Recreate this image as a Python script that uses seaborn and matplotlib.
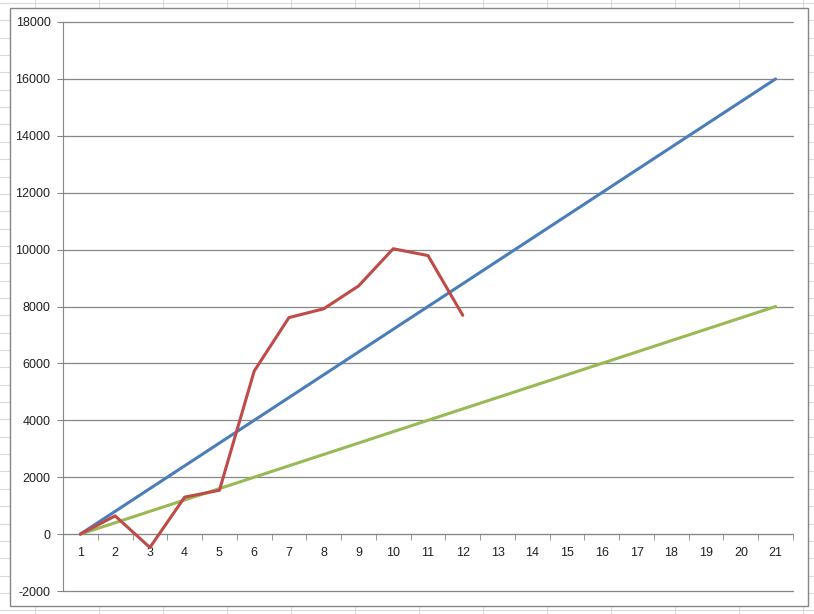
import numpy as np
import pandas as pd
import matplotlib
matplotlib.use("Agg")
import matplotlib.pyplot as plt
import matplotlib.patches as mpatches
import matplotlib.lines as mlines
import seaborn as sns

# data
periods = [1, 2, 3, 4, 5, 6, 7, 8, 9, 10, 11, 12, 13, 14, 15, 16, 17, 18, 19, 20, 21]
plan_high = [0, 800, 1600, 2400, 3200, 4000, 4800, 5600, 6400, 7200, 8000,
             8800, 9600, 10400, 11200, 12000, 12800, 13600, 14400, 15200, 16000]
plan_low = [0, 400, 800, 1200, 1600, 2000, 2400, 2800, 3200, 3600, 4000,
            4400, 4800, 5200, 5600, 6000, 6400, 6800, 7200, 7600, 8000]
actual_periods = [1, 2, 3, 4, 5, 6, 7, 8, 9, 10, 11, 12]
actual = [0, 640, -470, 1300, 1540, 5730, 7610, 7920, 8720, 10030, 9790, 7690]
y_ticks = [-2000, 0, 2000, 4000, 6000, 8000, 10000, 12000, 14000, 16000, 18000]

BLUE = '#4a7ebb'
RED = '#be4b48'
GREEN = '#98b954'
GRID = '#878787'

sns.set_style("white")
plt.rcParams['font.family'] = ['Liberation Sans', 'DejaVu Sans']

W, H = 814, 614
fig = plt.figure(figsize=(W / 100, H / 100), dpi=100)

# spreadsheet cells behind the chart
for x in np.arange(35, W, 64):
    fig.add_artist(mlines.Line2D([x / W, x / W], [0, 1], color='#dadada', lw=0.8, zorder=-3))
for y in np.arange(3, H, 17.35):
    fig.add_artist(mlines.Line2D([0, 1], [1 - y / H, 1 - y / H], color='#dadada', lw=0.8, zorder=-3))

# chart area
fig.add_artist(mpatches.Rectangle((10 / W, 1 - 606 / H), 798 / W, 598 / H,
                                  facecolor='white', edgecolor='#868686', lw=1.0, zorder=-2))

ax = fig.add_axes([63 / W, 1 - 591 / H, 730 / W, 569 / H])
ax.set_facecolor('none')
ax.set_zorder(1)

df_high = pd.DataFrame({'period': periods, 'value': plan_high})
df_low = pd.DataFrame({'period': periods, 'value': plan_low})
df_act = pd.DataFrame({'period': actual_periods, 'value': actual})

sns.lineplot(data=df_high, x='period', y='value', color=BLUE, lw=2.2, ax=ax, zorder=3)
sns.lineplot(data=df_act, x='period', y='value', color=RED, lw=2.2, ax=ax, zorder=4)
sns.lineplot(data=df_low, x='period', y='value', color=GREEN, lw=2.2, ax=ax, zorder=3)

ax.set_xlim(0.5, 21.5)
ax.set_ylim(-2000, 18000)
ax.set_yticks(y_ticks)
ax.set_yticklabels([str(v) for v in y_ticks])
ax.set_xticks(periods)
ax.set_xticklabels([str(p) for p in periods])
ax.set_xticks(np.arange(0.5, 22, 1.0), minor=True)

ax.set_xlabel('')
ax.set_ylabel('')
ax.yaxis.grid(True, color=GRID, lw=0.9)
ax.xaxis.grid(False)
ax.set_axisbelow(True)
for gl in ax.get_ygridlines():
    gl.set_clip_on(False)

for s in ['top', 'right']:
    ax.spines[s].set_visible(False)
ax.spines['left'].set_color(GRID)
ax.spines['bottom'].set_color(GRID)
ax.spines['bottom'].set_position(('data', 0))
ax.spines['bottom'].set_zorder(2)

ax.tick_params(axis='y', which='major', length=4, color=GRID, pad=5,
               labelsize=9, labelcolor='#222222', left=True)
ax.tick_params(axis='x', which='major', length=0, pad=9.5,
               labelsize=9, labelcolor='#222222', bottom=True)
ax.tick_params(axis='x', which='minor', length=4, color=GRID, direction='out', bottom=True)

fig.savefig('out.png', dpi=100)
